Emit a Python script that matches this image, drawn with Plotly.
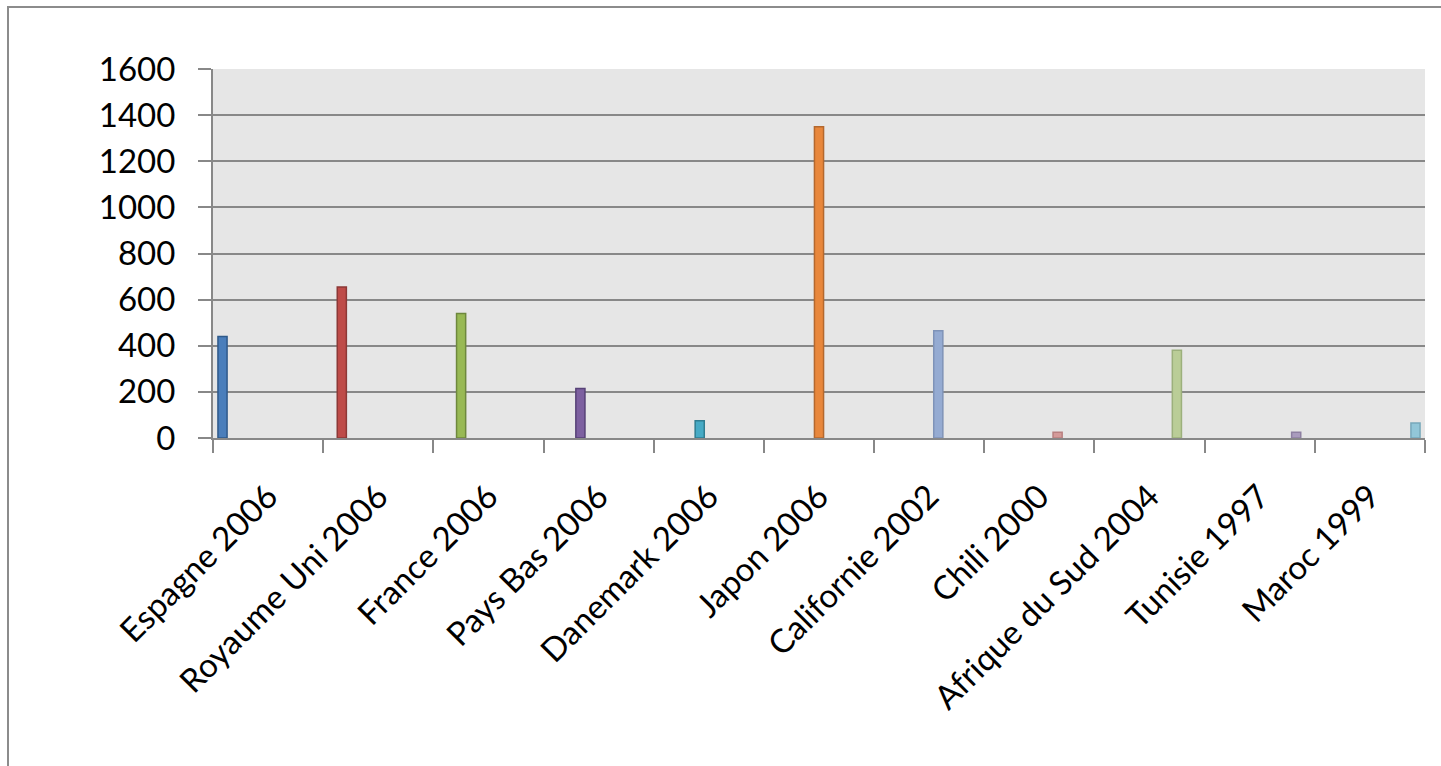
import plotly.graph_objects as go

categories = ["Espagne 2006", "Royaume Uni 2006", "France 2006", "Pays Bas 2006",
              "Danemark 2006", "Japon 2006", "Californie 2002", "Chili 2000",
              "Afrique du Sud 2004", "Tunisie 1997", "Maroc 1999"]
values = [440, 655, 540, 215, 75, 1350, 465, 25, 380, 25, 65]
fill_colors = ["#4A7EBB", "#BE4B48", "#98B954", "#7D60A0", "#46AAC5", "#E8873C",
               "#95ABD2", "#D49A99", "#BACD97", "#A99BBD", "#92C6D8"]
line_colors = ["#2F5A8A", "#8C3836", "#6E883D", "#574277", "#2F7D91", "#B4682E",
               "#7F93B8", "#B88080", "#9CB07C", "#8E80A2", "#77A8BA"]
y_ticks = [0, 200, 400, 600, 800, 1000, 1200, 1400, 1600]

W, H = 1441, 766
L, T, R, B = 213, 69, 16, 328

fig = go.Figure()
for i, (c, v) in enumerate(zip(categories, values)):
    fig.add_trace(go.Bar(
        x=[c], y=[v], name=c,
        offsetgroup=str(i), alignmentgroup="all",
        marker=dict(color=fill_colors[i], line=dict(color=line_colors[i], width=1.5)),
        showlegend=False,
    ))

font_family = "Lato, Carlito, 'Open Sans', sans-serif"
fig.update_layout(
    width=W, height=H,
    margin=dict(l=L, r=R, t=T, b=B, pad=0),
    paper_bgcolor="white",
    plot_bgcolor="#E6E6E6",
    barmode="group",
    bargap=0.09,
    bargroupgap=0,
    font=dict(family=font_family, size=32, color="black"),
    xaxis=dict(
        type="category",
        categoryorder="array", categoryarray=categories,
        tickangle=-45,
        tickson="boundaries",
        ticks="outside", ticklen=13, tickwidth=2, tickcolor="#888888",
        showline=True, linecolor="#888888", linewidth=2,
        showgrid=False,
        tickfont=dict(family=font_family, size=33, color="black"),
        ticklabelstandoff=24,
    ),
    yaxis=dict(
        range=[0, 1600],
        tickvals=y_ticks,
        ticks="outside", ticklen=13, tickwidth=2, tickcolor="#888888",
        showline=True, linecolor="#888888", linewidth=2,
        showgrid=True, gridcolor="#888888", gridwidth=2,
        zeroline=False,
        tickfont=dict(family=font_family, size=33, color="black"),
        ticklabelstandoff=16,
    ),
)

pw = W - L - R
ph = H - T - B
fig.add_shape(
    type="rect", xref="paper", yref="paper",
    x0=(8 - L) / pw, x1=(W + 20 - L) / pw,
    y0=(H - B - (H + 20)) / ph, y1=(H - B - 7) / ph,
    line=dict(color="#8C8C8C", width=2), fillcolor="rgba(0,0,0,0)", layer="below",
)

fig.write_html("out.html")
